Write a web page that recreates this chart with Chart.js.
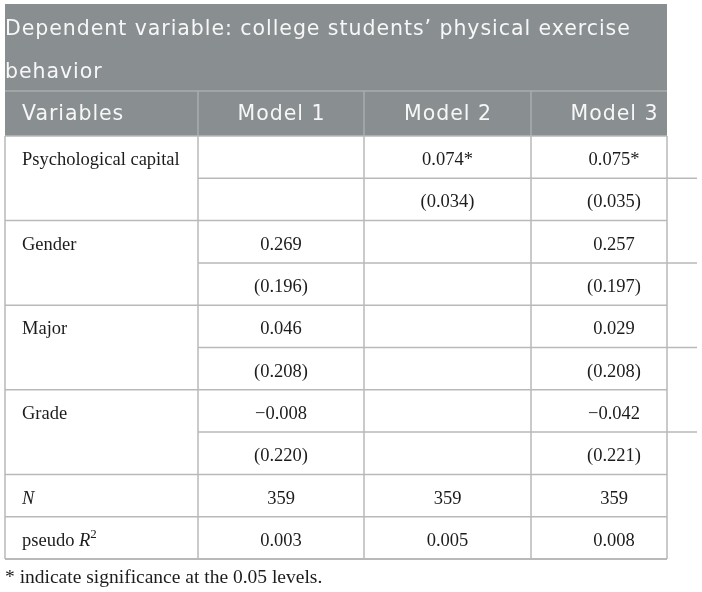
<!DOCTYPE html>
<html>
<head>
<meta charset="utf-8">
<script src="https://cdn.jsdelivr.net/npm/chart.js@4.4.1/dist/chart.umd.min.js"></script>
<style>
html, body { margin: 0; padding: 0; background: #ffffff; }
.chart-container { position: relative; width: 702px; height: 592px; }
</style>
</head>
<body>
<div class="chart-container"><canvas id="tableChart"></canvas></div>
<script>
// table content
const titleLines = ['Dependent variable: college students’ physical exercise', 'behavior'];
const headerLabels = ['Variables', 'Model 1', 'Model 2', 'Model 3'];
const variables = ['Psychological capital', 'Gender', 'Major', 'Grade'];
const model1Coef = [null, 0.269, 0.046, -0.008];
const model1SE = [null, 0.196, 0.208, 0.220];
const model1Stars = ['', '', '', ''];
const model2Coef = [0.074, null, null, null];
const model2SE = [0.034, null, null, null];
const model2Stars = ['*', '', '', ''];
const model3Coef = [0.075, 0.257, 0.029, -0.042];
const model3SE = [0.035, 0.197, 0.208, 0.221];
const model3Stars = ['*', '', '', ''];
const sampleN = [359, 359, 359];
const pseudoR2 = [0.003, 0.005, 0.008];
const footnote = '* indicate significance at the 0.05 levels.';

// layout (scale units)
const colWidths = [193, 166, 167, 166];
const titleH = 87;
const headH = 45;
const rowH = 42.3;
const rightInset = 30;

const headFont = '"DejaVu Sans", sans-serif';
const bodyFont = '"Liberation Serif", "Times New Roman", serif';
const grayFill = '#898e90';
const grayLine = '#a9adae';
const gridColor = '#b7bab7';
const textColor = '#1c1c1c';

function fmtNum(v) {
    return (v < 0 ? '\u2212' : '') + Math.abs(v).toFixed(3);
}
function fmtCoef(v, star) {
    return v === null ? '' : fmtNum(v) + star;
}
function fmtSE(v) {
    return v === null ? '' : '(' + fmtNum(v) + ')';
}

const bodyRows = [];
variables.forEach((name, i) => {
    bodyRows.push({
        label: [{ text: name }],
        cells: [fmtCoef(model1Coef[i], model1Stars[i]), fmtCoef(model2Coef[i], model2Stars[i]), fmtCoef(model3Coef[i], model3Stars[i])],
        pairTop: true
    });
    bodyRows.push({
        label: null,
        cells: [fmtSE(model1SE[i]), fmtSE(model2SE[i]), fmtSE(model3SE[i])]
    });
});
bodyRows.push({ label: [{ text: 'N', italic: true }], cells: sampleN.map(String) });
bodyRows.push({ label: [{ text: 'pseudo ' }, { text: 'R', italic: true }, { text: '2', sup: true }], cells: pseudoR2.map(fmtNum) });

const colEdges = [0];
colWidths.forEach(w => colEdges.push(colEdges[colEdges.length - 1] + w));
const bodyTop = titleH + headH;
const rowEdges = [bodyTop];
bodyRows.forEach(() => rowEdges.push(rowEdges[rowEdges.length - 1] + rowH));
const totalW = colEdges[colEdges.length - 1];
const totalH = rowEdges[rowEdges.length - 1];

function line(ctx, x1, y1, x2, y2, color, width) {
    ctx.strokeStyle = color;
    ctx.lineWidth = width;
    ctx.beginPath();
    ctx.moveTo(x1, y1);
    ctx.lineTo(x2, y2);
    ctx.stroke();
}

function drawRuns(ctx, runs, x, y, size) {
    let cx = x;
    runs.forEach(r => {
        const s = r.sup ? size * 0.7 : size;
        ctx.font = (r.italic ? 'italic ' : '') + s + 'px ' + bodyFont;
        ctx.fillText(r.text, cx, r.sup ? y - size * 0.42 : y);
        cx += ctx.measureText(r.text).width;
    });
}

const tablePlugin = {
    id: 'tablePlugin',
    afterDraw(chart) {
        const { ctx, scales: { x, y } } = chart;
        const xs = colEdges.map(v => x.getPixelForValue(v));
        const ys = rowEdges.map(v => y.getPixelForValue(v));
        const left = xs[0];
        const fullRight = xs[xs.length - 1];
        const right = fullRight - rightInset;
        const top = y.getPixelForValue(0);
        const titleBottom = y.getPixelForValue(titleH);
        const headBottom = y.getPixelForValue(bodyTop);
        const bottom = y.getPixelForValue(totalH);

        ctx.save();
        // header band
        ctx.fillStyle = grayFill;
        ctx.fillRect(left, top, right - left, headBottom - top);
        line(ctx, left, titleBottom, right, titleBottom, grayLine, 1.5);
        for (let c = 1; c < xs.length - 1; c++) {
            line(ctx, xs[c], titleBottom, xs[c], headBottom, grayLine, 1.5);
        }

        ctx.fillStyle = '#f7f7f7';
        ctx.font = '20.5px ' + headFont;
        ctx.letterSpacing = '0.95px';
        ctx.textBaseline = 'alphabetic';
        ctx.textAlign = 'left';
        titleLines.forEach((t, i) => {
            ctx.fillText(t, left, top + 31 + i * 43);
        });
        headerLabels.forEach((h, c) => {
            if (c === 0) {
                ctx.textAlign = 'left';
                ctx.fillText(h, xs[0] + 17, headBottom - 16.5);
            } else {
                ctx.textAlign = 'center';
                ctx.fillText(h, (xs[c] + xs[c + 1]) / 2 + 0.5, headBottom - 16.5);
            }
        });
        ctx.letterSpacing = '0px';

        // body grid
        for (let r = 1; r < ys.length - 1; r++) {
            if (bodyRows[r - 1].pairTop) {
                line(ctx, xs[1], ys[r], fullRight, ys[r], gridColor, 1.5);
            } else {
                line(ctx, left, ys[r], right, ys[r], gridColor, 1.5);
            }
        }
        line(ctx, left, headBottom, right, headBottom, gridColor, 1.5);
        line(ctx, left, bottom, right, bottom, gridColor, 2);
        [left, xs[1], xs[2], xs[3], right].forEach(px => {
            line(ctx, px, headBottom, px, bottom, gridColor, 1.5);
        });

        // body text
        ctx.fillStyle = textColor;
        bodyRows.forEach((row, r) => {
            const base = (ys[r] + ys[r + 1]) / 2 + 8;
            if (row.label) {
                ctx.textAlign = 'left';
                drawRuns(ctx, row.label, xs[0] + 17, base, 18.5);
            }
            ctx.font = '18.5px ' + bodyFont;
            ctx.textAlign = 'center';
            row.cells.forEach((cell, c) => {
                if (cell) ctx.fillText(cell, (xs[c + 1] + xs[c + 2]) / 2, base);
            });
        });

        // footnote
        ctx.textAlign = 'left';
        ctx.font = '19.5px ' + bodyFont;
        ctx.fillText(footnote, left, bottom + 24);
        ctx.restore();
    }
};

const ctx = document.getElementById('tableChart').getContext('2d');
const tableChart = new Chart(ctx, {
    type: 'scatter',
    data: { datasets: [] },
    options: {
        responsive: true,
        maintainAspectRatio: false,
        animation: false,
        events: [],
        layout: { padding: { left: 5, right: 5, top: 4, bottom: 33 } },
        plugins: {
            legend: { display: false },
            tooltip: { enabled: false }
        },
        scales: {
            x: { type: 'linear', min: 0, max: totalW, display: false },
            y: { type: 'linear', min: 0, max: totalH, reverse: true, display: false }
        }
    },
    plugins: [tablePlugin]
});
</script>
</body>
</html>
